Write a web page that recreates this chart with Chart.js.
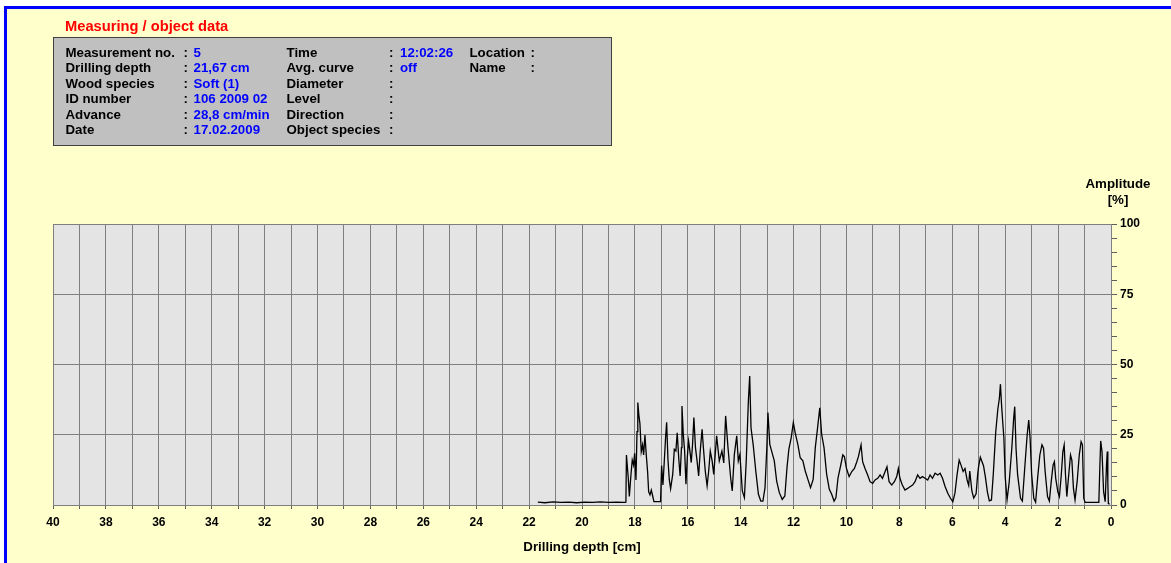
<!DOCTYPE html>
<html>
<head>
<meta charset="utf-8">
<title>Drilling resistance profile</title>
<script src="https://cdn.jsdelivr.net/npm/chart.js@4/dist/chart.umd.min.js"></script>
<style>
  html, body { margin: 0; padding: 0; background: #ffffff; }
  body { width: 1171px; height: 563px; position: relative; overflow: hidden;
         font-family: "Liberation Sans", Arial, sans-serif; font-weight: bold; }
  #frame { position: absolute; left: 4px; top: 6px; right: 0; bottom: 0;
           border-top: 3px solid #0000ff; border-left: 3px solid #0000ff; background: #ffffcc; }
  #chart { position: absolute; left: 0; top: 0; }
  .t { position: absolute; white-space: nowrap; }
  #title { left: 65px; top: 17px; font-size: 14.7px; line-height: 18px; color: #ff0000; }
  #info { position: absolute; left: 53px; top: 37px; width: 557px; height: 107px;
          background: #c0c0c0; border: 1px solid #404040; }
  .row { position: absolute; left: 0; width: 1171px; height: 16px; font-size: 13.3px; line-height: 16px; }
  .v { color: #0000ff; }
  #ampl { left: 1068px; width: 100px; text-align: center; top: 176px; font-size: 13.3px; line-height: 16px; }
  #amplu { left: 1068px; width: 100px; text-align: center; top: 192px; font-size: 13.3px; line-height: 16px; }
</style>
</head>
<body>
<div id="frame"></div>
<canvas id="chart" width="1171" height="563"></canvas>
<div class="t" id="title">Measuring / object data</div>
<div id="info"></div>
<div id="rows"></div>
<div class="t" id="ampl">Amplitude</div>
<div class="t" id="amplu">[%]</div>
<script>
// Measurement header fields
const infoLabels1 = ["Measurement no.", "Drilling depth", "Wood species", "ID number", "Advance", "Date"];
const infoValues1 = ["5", "21,67 cm", "Soft (1)", "106 2009 02", "28,8 cm/min", "17.02.2009"];
const infoLabels2 = ["Time", "Avg. curve", "Diameter", "Level", "Direction", "Object species"];
const infoValues2 = ["12:02:26", "off", "", "", "", ""];
const infoLabels3 = ["Location", "Name", "", "", "", ""];

// Drilling depth [cm] and amplitude [%] of the resistance curve
const depthCm = [
  21.67, 21.40, 21.10, 20.80, 20.50, 20.20, 19.90, 19.60, 19.30, 19.00,
  18.70, 18.40, 18.34, 18.32, 18.25, 18.21, 18.15, 18.10, 18.05, 18.01,
  17.96, 17.92, 17.89, 17.85, 17.81, 17.76, 17.71, 17.67, 17.62, 17.57,
  17.52, 17.48, 17.43, 17.38, 17.33, 17.28, 17.03, 16.99, 16.94, 16.89,
  16.84, 16.80, 16.75, 16.70, 16.65, 16.57, 16.51, 16.45, 16.40, 16.34,
  16.29, 16.24, 16.22, 16.17, 16.12, 16.07, 16.02, 15.97, 15.92, 15.87,
  15.82, 15.77, 15.71, 15.65, 15.59, 15.53, 15.46, 15.41, 15.34, 15.27,
  15.21, 15.15, 15.08, 15.02, 14.91, 14.81, 14.71, 14.64, 14.57, 14.48,
  14.38, 14.32, 14.24, 14.15, 14.09, 14.03, 13.94, 13.86, 13.79, 13.71,
  13.66, 13.61, 13.53, 13.43, 13.33, 13.24, 13.16, 13.08, 13.01, 12.97,
  12.90, 12.83, 12.73, 12.64, 12.54, 12.43, 12.33, 12.25, 12.18, 12.09,
  12.01, 11.94, 11.84, 11.75, 11.65, 11.56, 11.46, 11.36, 11.26, 11.18,
  11.10, 11.01, 10.94, 10.85, 10.75, 10.65, 10.56, 10.47, 10.40, 10.32,
  10.21, 10.14, 10.08, 10.00, 9.90, 9.80, 9.70, 9.61, 9.55, 9.45,
  9.39, 9.30, 9.20, 9.11, 9.01, 8.92, 8.82, 8.73, 8.64, 8.54,
  8.47, 8.39, 8.29, 8.19, 8.10, 8.04, 7.98, 7.89, 7.79, 7.69,
  7.60, 7.50, 7.41, 7.31, 7.22, 7.13, 7.03, 6.93, 6.84, 6.75,
  6.65, 6.55, 6.46, 6.37, 6.27, 6.17, 6.07, 5.98, 5.90, 5.82,
  5.74, 5.67, 5.59, 5.52, 5.44, 5.38, 5.34, 5.26, 5.19, 5.10,
  5.04, 5.00, 4.94, 4.88, 4.82, 4.75, 4.67, 4.60, 4.52, 4.45,
  4.36, 4.28, 4.22, 4.18, 4.14, 4.09, 4.05, 4.00, 3.93, 3.85,
  3.75, 3.68, 3.64, 3.59, 3.53, 3.42, 3.35, 3.27, 3.17, 3.11,
  3.06, 3.00, 2.92, 2.85, 2.77, 2.69, 2.61, 2.55, 2.49, 2.40,
  2.33, 2.26, 2.19, 2.14, 2.09, 2.01, 1.95, 1.88, 1.82, 1.77,
  1.72, 1.67, 1.61, 1.53, 1.48, 1.42, 1.36, 1.28, 1.20, 1.13,
  1.08, 1.03, 0.98, 0.46, 0.42, 0.39, 0.34, 0.28, 0.22, 0.17,
  0.14, 0.12, 0.10, 0.05
];
const amplitudePct = [
  1.0, 0.8, 1.1, 0.9, 1.0, 0.8, 1.0, 0.9, 1.1, 0.9,
  1.0, 0.9, 1.0, 17.8, 9.5, 3.0, 10.7, 16.0, 14.2, 18.4,
  8.9, 26.1, 36.5, 32.0, 29.0, 19.0, 21.4, 17.8, 24.9, 17.8,
  11.9, 4.7, 3.6, 5.3, 3.3, 1.2, 1.2, 14.0, 7.1, 15.4,
  24.0, 29.4, 16.2, 9.0, 5.8, 10.9, 19.8, 19.2, 25.7, 16.3,
  10.3, 20.4, 35.2, 25.1, 19.2, 7.4, 16.8, 22.8, 19.2, 15.1,
  21.6, 31.1, 20.4, 15.7, 10.3, 19.2, 26.9, 20.4, 12.1, 6.8,
  12.1, 19.2, 15.7, 10.9, 24.6, 15.7, 19.2, 15.0, 31.7, 20.4,
  9.7, 5.0, 18.0, 24.6, 15.7, 18.0, 5.0, 2.6, 15.7, 37.0,
  45.9, 27.5, 21.6, 12.1, 3.8, 1.4, 1.4, 6.2, 20.9, 32.9,
  21.6, 19.2, 15.7, 8.5, 4.4, 2.0, 3.2, 13.3, 19.8, 24.0,
  29.3, 25.7, 21.6, 16.8, 15.7, 12.1, 9.1, 6.2, 9.1, 20.4,
  26.9, 34.6, 25.1, 20.4, 10.9, 5.6, 3.8, 1.4, 2.6, 9.7,
  14.5, 17.8, 17.2, 13.0, 10.1, 11.9, 13.0, 15.4, 17.2, 21.4,
  15.4, 13.0, 10.7, 8.3, 7.7, 8.9, 9.5, 10.7, 9.5, 11.9,
  13.6, 8.3, 7.1, 8.3, 10.1, 13.0, 9.5, 7.1, 5.3, 5.9,
  6.5, 7.1, 8.3, 10.7, 9.5, 10.1, 9.5, 8.9, 10.7, 9.5,
  11.3, 10.7, 11.3, 9.5, 6.5, 4.2, 2.4, 1.2, 4.2, 10.7,
  16.0, 14.2, 11.9, 13.0, 8.9, 7.0, 12.1, 5.0, 2.5, 4.0,
  11.0, 14.0, 17.0, 15.5, 14.0, 10.0, 4.5, 1.5, 1.8, 11.0,
  25.7, 34.0, 38.0, 43.0, 36.0, 29.0, 24.0, 10.0, 1.8, 8.0,
  20.2, 30.8, 35.0, 20.0, 10.7, 2.4, 1.4, 12.0, 24.9, 30.2,
  24.0, 11.0, 2.4, 1.0, 10.0, 17.8, 21.4, 20.2, 11.9, 3.0,
  1.4, 8.3, 14.2, 15.4, 9.5, 4.7, 3.0, 10.7, 19.0, 21.4,
  10.7, 3.0, 9.5, 17.8, 16.0, 5.9, 1.8, 8.3, 17.8, 22.5,
  21.4, 2.4, 0.9, 0.9, 14.0, 22.8, 19.0, 4.7, 1.2, 14.2,
  19.0, 8.0, 0.5, 0.3
];

// Axis ranges and labelled ticks
const depthRange = [0, 40];
const depthLabelEvery = 2;
const amplitudeRange = [0, 100];
const amplitudeLabels = [0, 25, 50, 75, 100];

// Header table
(function buildInfo() {
  const rowsEl = document.getElementById('rows');
  const rowCenters = [52.7, 68.3, 83.7, 99.3, 115, 130.3];
  const cols = [
    { labels: infoLabels1, values: infoValues1, lx: 65.5, cx: 183.5, vx: 193.5 },
    { labels: infoLabels2, values: infoValues2, lx: 286.5, cx: 389, vx: 400 },
    { labels: infoLabels3, values: null, lx: 469.5, cx: 530.5, vx: 540 }
  ];
  rowCenters.forEach((cy, i) => {
    const row = document.createElement('div');
    row.className = 'row';
    row.style.top = (cy - 8) + 'px';
    cols.forEach(c => {
      if (!c.labels[i]) return;
      const add = (txt, x, cls) => {
        const s = document.createElement('span');
        s.className = 't' + (cls ? ' ' + cls : '');
        s.style.left = x + 'px';
        s.textContent = txt;
        row.appendChild(s);
      };
      add(c.labels[i], c.lx);
      add(':', c.cx);
      if (c.values && c.values[i]) add(c.values[i], c.vx, 'v');
    });
    rowsEl.appendChild(row);
  });
})();

const plotBackground = {
  id: 'plotBackground',
  beforeDraw(chart) {
    const { ctx, chartArea: a } = chart;
    ctx.save();
    ctx.fillStyle = '#e4e4e4';
    ctx.fillRect(a.left, a.top, a.right - a.left, a.bottom - a.top);
    ctx.restore();
  }
};

const axisFont = { family: '"Liberation Sans", Arial, sans-serif', size: 12, weight: 'bold' };
const gridGray = '#7f7f7f';

new Chart(document.getElementById('chart'), {
  type: 'line',
  data: {
    datasets: [{
      data: depthCm.map((d, i) => ({ x: d, y: amplitudePct[i] })),
      borderColor: '#000000',
      borderWidth: 1.3,
      pointRadius: 0,
      tension: 0,
      fill: false
    }]
  },
  options: {
    responsive: false,
    animation: false,
    devicePixelRatio: 1,
    layout: { padding: { left: 53, top: 224, right: 0, bottom: 0 } },
    plugins: { legend: { display: false }, tooltip: { enabled: false } },
    scales: {
      x: {
        type: 'linear',
        position: 'bottom',
        reverse: true,
        min: depthRange[0],
        max: depthRange[1],
        afterFit(scale) { scale.height = 58; },
        ticks: {
          stepSize: 1,
          autoSkip: false,
          maxRotation: 0,
          padding: 6,
          color: '#000000',
          font: axisFont,
          callback: v => (v % depthLabelEvery === 0 ? String(v) : '')
        },
        grid: { color: gridGray, lineWidth: 1, tickLength: 4, tickColor: '#606060' },
        border: { display: true, color: gridGray },
        title: {
          display: true,
          text: 'Drilling depth [cm]',
          color: '#000000',
          font: { family: '"Liberation Sans", Arial, sans-serif', size: 13.3, weight: 'bold' },
          padding: { top: 0, bottom: 8 }
        }
      },
      y: {
        type: 'linear',
        position: 'right',
        min: amplitudeRange[0],
        max: amplitudeRange[1],
        afterFit(scale) { scale.width = 60; },
        ticks: {
          stepSize: 5,
          autoSkip: false,
          padding: 3,
          color: '#000000',
          font: axisFont,
          callback: v => (amplitudeLabels.includes(v) ? String(v) : '')
        },
        grid: {
          color: ctx => (ctx.tick && amplitudeLabels.includes(ctx.tick.value) ? gridGray : 'rgba(0,0,0,0)'),
          lineWidth: 1,
          tickLength: 6,
          tickColor: '#606060'
        },
        border: { display: true, color: gridGray }
      }
    }
  },
  plugins: [plotBackground]
});
</script>
</body>
</html>
